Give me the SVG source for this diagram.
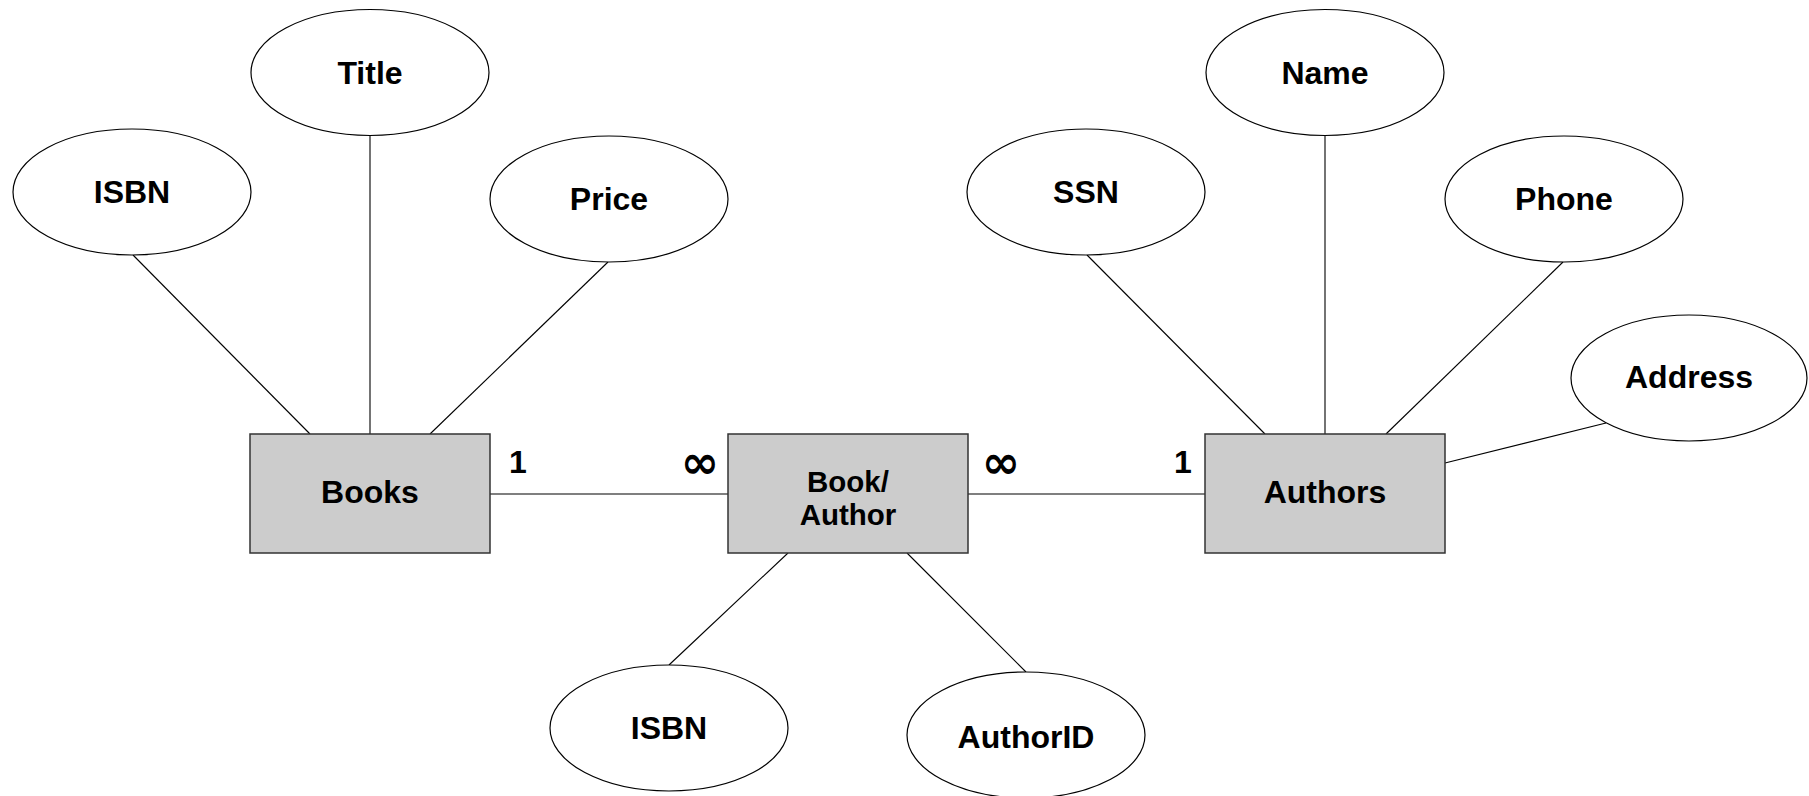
<svg xmlns="http://www.w3.org/2000/svg" width="1809" height="796" viewBox="0 0 1809 796">
  <style>
    .attr ellipse { fill: #ffffff; stroke: #000000; stroke-width: 1.2; }
    .entity rect { fill: #cccccc; stroke: #333333; stroke-width: 1.5; }
    .lbl { font-family: "Liberation Sans", Arial, sans-serif; font-weight: bold; font-size: 32px; fill: #000000; text-anchor: middle; }
    .two { font-size: 29.5px; }
    .inf { font-family: "DejaVu Sans", sans-serif; font-weight: bold; font-size: 46px; fill: #000000; text-anchor: middle; }
    #connectors line { stroke: #000000; stroke-width: 1.1; }
  </style>
  <rect width="1809" height="796" fill="#ffffff"/>

  <!-- connectors (drawn first so shapes sit on top) -->
  <g id="connectors">
    <line x1="133" y1="255" x2="310" y2="434"/>
    <line x1="370" y1="136" x2="370" y2="434"/>
    <line x1="608" y1="262" x2="430" y2="434"/>
    <line x1="490" y1="494" x2="728" y2="494"/>
    <line x1="968" y1="494" x2="1205" y2="494"/>
    <line x1="1087" y1="255" x2="1265" y2="434"/>
    <line x1="1325" y1="136" x2="1325" y2="434"/>
    <line x1="1563" y1="262" x2="1386" y2="434"/>
    <line x1="1445" y1="463" x2="1606" y2="423"/>
    <line x1="788" y1="553" x2="669" y2="665"/>
    <line x1="907" y1="553" x2="1026" y2="672"/>
  </g>

  <!-- cardinality labels -->
  <g id="cardinality">
    <text class="lbl" x="518" y="473">1</text>
    <text class="inf" x="700" y="478">∞</text>
    <text class="inf" x="1001" y="478">∞</text>
    <text class="lbl" x="1183" y="473">1</text>
  </g>

  <!-- Books entity and attributes -->
  <g id="books" class="entity">
    <rect x="250" y="434" width="240" height="119"/>
    <text class="lbl" x="370" y="503">Books</text>
  </g>
  <g id="books-isbn" class="attr">
    <ellipse cx="132" cy="192" rx="119" ry="63"/>
    <text class="lbl" x="132" y="203">ISBN</text>
  </g>
  <g id="books-title" class="attr">
    <ellipse cx="370" cy="72.5" rx="119" ry="63"/>
    <text class="lbl" x="370" y="83.5">Title</text>
  </g>
  <g id="books-price" class="attr">
    <ellipse cx="609" cy="199" rx="119" ry="63"/>
    <text class="lbl" x="609" y="210">Price</text>
  </g>

  <!-- Book/Author link entity and attributes -->
  <g id="book-author" class="entity">
    <rect x="728" y="434" width="240" height="119"/>
    <text class="lbl two" x="848" y="492"><tspan x="848" y="492">Book/</tspan><tspan x="848" y="525">Author</tspan></text>
  </g>
  <g id="ba-isbn" class="attr">
    <ellipse cx="669" cy="728" rx="119" ry="63"/>
    <text class="lbl" x="669" y="739">ISBN</text>
  </g>
  <g id="ba-authorid" class="attr">
    <ellipse cx="1026" cy="735" rx="119" ry="63"/>
    <text class="lbl" x="1026" y="748">AuthorID</text>
  </g>

  <!-- Authors entity and attributes -->
  <g id="authors" class="entity">
    <rect x="1205" y="434" width="240" height="119"/>
    <text class="lbl" x="1325" y="503">Authors</text>
  </g>
  <g id="authors-ssn" class="attr">
    <ellipse cx="1086" cy="192" rx="119" ry="63"/>
    <text class="lbl" x="1086" y="203">SSN</text>
  </g>
  <g id="authors-name" class="attr">
    <ellipse cx="1325" cy="72.5" rx="119" ry="63"/>
    <text class="lbl" x="1325" y="83.5">Name</text>
  </g>
  <g id="authors-phone" class="attr">
    <ellipse cx="1564" cy="199" rx="119" ry="63"/>
    <text class="lbl" x="1564" y="210">Phone</text>
  </g>
  <g id="authors-address" class="attr">
    <ellipse cx="1689" cy="378" rx="118" ry="63"/>
    <text class="lbl" x="1689" y="388">Address</text>
  </g>
</svg>
